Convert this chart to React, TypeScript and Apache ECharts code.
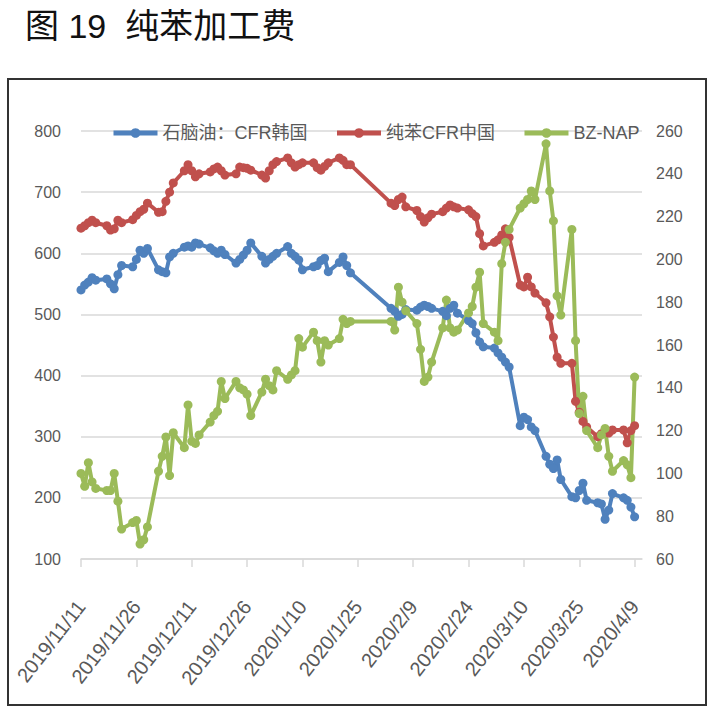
import React, { useEffect, useRef } from 'react';
import * as echarts from 'echarts';

const dates = [
  '2019/11/11', '2019/11/12', '2019/11/13', '2019/11/14', '2019/11/15',
  '2019/11/18', '2019/11/19', '2019/11/20', '2019/11/21', '2019/11/22',
  '2019/11/25', '2019/11/26', '2019/11/27', '2019/11/28', '2019/11/29',
  '2019/12/2', '2019/12/3', '2019/12/4', '2019/12/5', '2019/12/6',
  '2019/12/9', '2019/12/10', '2019/12/11', '2019/12/12', '2019/12/13',
  '2019/12/16', '2019/12/17', '2019/12/18', '2019/12/19', '2019/12/20',
  '2019/12/23', '2019/12/24', '2019/12/25', '2019/12/26', '2019/12/27',
  '2019/12/30', '2019/12/31', '2020/1/1', '2020/1/2', '2020/1/3',
  '2020/1/6', '2020/1/7', '2020/1/8', '2020/1/9', '2020/1/10',
  '2020/1/13', '2020/1/14', '2020/1/15', '2020/1/16', '2020/1/17',
  '2020/1/20', '2020/1/21', '2020/1/22', '2020/1/23',
  '2020/2/3', '2020/2/4', '2020/2/5', '2020/2/6', '2020/2/7',
  '2020/2/10', '2020/2/11', '2020/2/12', '2020/2/13', '2020/2/14',
  '2020/2/17', '2020/2/18', '2020/2/19', '2020/2/20', '2020/2/21',
  '2020/2/24', '2020/2/25', '2020/2/26', '2020/2/27', '2020/2/28',
  '2020/3/2', '2020/3/3', '2020/3/4', '2020/3/5', '2020/3/6',
  '2020/3/9', '2020/3/10', '2020/3/11', '2020/3/12', '2020/3/13',
  '2020/3/16', '2020/3/17', '2020/3/18', '2020/3/19', '2020/3/20',
  '2020/3/23', '2020/3/24', '2020/3/25', '2020/3/26', '2020/3/27',
  '2020/3/30', '2020/3/31', '2020/4/1', '2020/4/2', '2020/4/3',
  '2020/4/6', '2020/4/7', '2020/4/8', '2020/4/9',
];

// 石脑油：CFR韩国 (left axis)
const naphthaCFRKorea = [
  540, 548, 553, 560, 556,
  558, 550, 542, 565, 580,
  578, 590, 605, 600, 608,
  573, 570, 568, 594, 600,
  610, 612, 610, 617, 615,
  609, 604, 600, 605, 598,
  584, 590, 597, 605, 617,
  595, 584, 590, 595, 600,
  611, 600, 595, 589, 573,
  578, 580, 588, 592, 570,
  585, 594, 580, 568,
  510, 505, 497, 500, 508,
  507, 512, 515, 513, 510,
  505, 498, 510, 515, 502,
  490, 485, 470, 455, 447,
  445, 437, 430, 422, 414,
  318, 332, 328, 316, 310,
  268, 255, 248, 262, 230,
  202, 200, 212, 224, 196,
  192, 190, 165, 180, 207,
  200, 196, 185, 169,
];

// 纯苯CFR中国 (left axis)
const benzeneCFRChina = [
  641, 645, 650, 654, 650,
  645, 638, 640, 654, 650,
  655, 662, 668, 672, 682,
  667, 668, 685, 700, 715,
  735, 745, 735, 725, 730,
  733, 738, 741, 735, 728,
  730, 741, 740, 739, 736,
  728, 723, 735, 745, 750,
  756, 748, 741, 745, 748,
  748, 740, 736, 742, 748,
  756, 752, 745, 745,
  682, 678, 688, 692, 676,
  670, 660, 651, 658, 664,
  668, 674, 679, 676, 674,
  671, 665, 660, 632, 612,
  618, 622, 630, 640, 626,
  548, 545, 561, 545, 535,
  519, 496, 463, 430, 420,
  420, 358, 340, 325, 316,
  300, 305, 310, 306, 311,
  311, 290, 310, 318,
];

// BZ-NAP (right axis)
const bzNapSpread = [
  100, 94, 105, 96, 93,
  92, 92, 100, 87, 74,
  77, 78, 67, 69, 75,
  101, 108, 117, 99, 119,
  112, 132, 115, 114, 118,
  124, 127, 129, 143, 135,
  143, 140, 139, 137, 127,
  138, 144, 141, 139, 148,
  144, 146, 148, 163, 159,
  166, 162, 152, 162, 160,
  163, 172, 170, 171,
  171, 167, 187, 180, 176,
  170, 158, 143, 145, 152,
  168, 181, 168, 166, 167,
  175, 178, 187, 194, 170,
  166, 162, 198, 208, 214,
  224, 226, 228, 232, 228,
  254, 232, 218, 183, 174,
  214, 162, 128, 136, 120,
  112, 118, 121, 108, 101,
  106, 104, 98, 145,
];

const xTickLabels = [
  '2019/11/11', '2019/11/26', '2019/12/11', '2019/12/26', '2020/1/10',
  '2020/1/25', '2020/2/9', '2020/2/24', '2020/3/10', '2020/3/25', '2020/4/9',
];
const xAxisStart = '2019/11/11';
const xAxisEnd = '2020/4/11';

const seriesNames = ['石脑油：CFR韩国', '纯苯CFR中国', 'BZ-NAP'];
const seriesColors = ['#4F81BD', '#C0504D', '#9BBB59'];

const FONT = 'Liberation Sans, Arial, Noto Sans CJK SC, sans-serif';

const DAY = 86400000;
const parseDate = (s: string) => {
  const [y, m, d] = s.split('/').map(Number);
  return Date.UTC(y, m - 1, d);
};
const base = parseDate(xAxisStart);
const dayIndex = (s: string) => Math.round((parseDate(s) - base) / DAY);
const dayLabel = (v: number) => {
  const d = new Date(base + Math.round(v) * DAY);
  return `${d.getUTCFullYear()}/${d.getUTCMonth() + 1}/${d.getUTCDate()}`;
};

export default function App() {
  const ref = useRef<HTMLDivElement>(null);
  useEffect(() => {
    const chart = echarts.init(ref.current!, null, { renderer: 'svg' });
    const tickVals = xTickLabels.map(dayIndex);
    const mk = (i: number, values: number[], yAxisIndex: number) => ({
      name: seriesNames[i],
      type: 'line',
      yAxisIndex,
      data: dates.map((d, k) => [dayIndex(d), values[k]]),
      symbol: 'circle',
      symbolSize: 9,
      showSymbol: true,
      lineStyle: { color: seriesColors[i], width: 4 },
      itemStyle: { color: seriesColors[i] },
    });
    chart.setOption({
      animation: false,
      backgroundColor: '#ffffff',
      title: {
        text: '图 19  纯苯加工费',
        left: 20,
        top: 4,
        textStyle: { fontSize: 34, fontWeight: 'normal', color: '#111', fontFamily: FONT },
      },
      graphic: [
        {
          type: 'rect',
          silent: true,
          shape: { x: 8, y: 79, width: 698, height: 626 },
          style: { fill: 'none', stroke: '#333', lineWidth: 2 },
        },
      ],
      legend: {
        left: 106,
        top: 119,
        itemWidth: 44,
        itemHeight: 12,
        itemGap: 27,
        data: seriesNames,
        lineStyle: { width: 5 },
        textStyle: { fontSize: 18, color: '#595959', fontFamily: FONT },
      },
      grid: { left: 81, right: 68, top: 131, bottom: 157 },
      xAxis: {
        type: 'value',
        min: 0,
        max: dayIndex(xAxisEnd),
        axisLine: { show: true, lineStyle: { color: '#D9D9D9', width: 1.5 } },
        axisTick: { show: true, length: 8, lineStyle: { color: '#D9D9D9', width: 1.5 }, customValues: tickVals },
        axisLabel: {
          customValues: tickVals,
          formatter: (v: number) => dayLabel(v),
          rotate: 52,
          fontSize: 20,
          color: '#595959',
          margin: 44,
          hideOverlap: false,
          fontFamily: FONT,
        },
        splitLine: { show: false },
      },
      yAxis: [
        {
          type: 'value',
          min: 100,
          max: 800,
          interval: 100,
          axisLine: { show: false },
          axisTick: { show: false },
          axisLabel: { fontSize: 16, color: '#595959', margin: 20, fontFamily: FONT },
          splitLine: { lineStyle: { color: '#D9D9D9', width: 1.5 } },
        },
        {
          type: 'value',
          position: 'right',
          min: 60,
          max: 260,
          interval: 20,
          axisLine: { show: false },
          axisTick: { show: false },
          axisLabel: { fontSize: 16, color: '#595959', margin: 14, fontFamily: FONT },
          splitLine: { show: false },
        },
      ],
      series: [
        mk(0, naphthaCFRKorea, 0),
        mk(1, benzeneCFRChina, 0),
        mk(2, bzNapSpread, 1),
      ],
    });
    return () => chart.dispose();
  }, []);
  return (
    <div
      ref={ref}
      style={{ position: 'fixed', left: 0, top: 0, width: 710, height: 716, background: '#fff' }}
    />
  );
}
